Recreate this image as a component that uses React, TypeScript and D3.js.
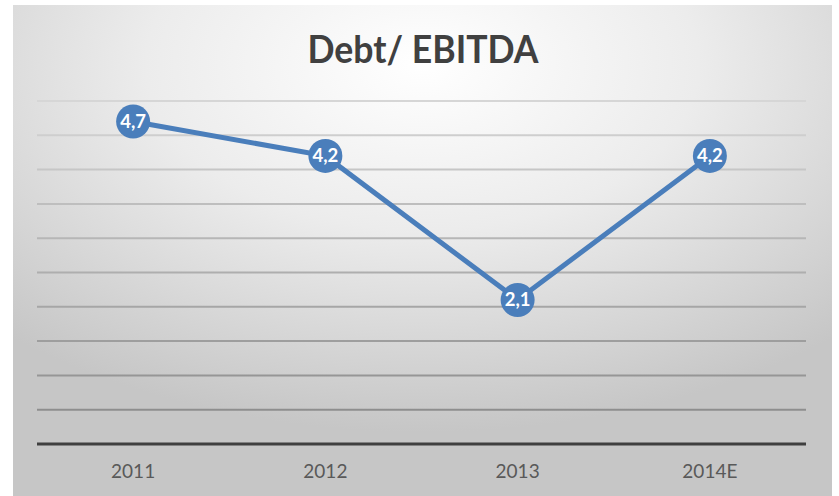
import React from "react";
import * as d3 from "d3";

const categories = ["2011", "2012", "2013", "2014E"];
const values = [4.7, 4.2, 2.1, 4.2];
const valueLabels = ["4,7", "4,2", "2,1", "4,2"];
const gridValues = [0.5, 1, 1.5, 2, 2.5, 3, 3.5, 4, 4.5, 5];
const title = "Debt/ EBITDA";

const W = 839;
const H = 496;

export default function App() {
  const x = d3.scaleBand<string>().domain(categories).range([37, 806]);
  const y = d3.scaleLinear().domain([0, 5]).range([444, 101]);
  const cx = (c: string) => (x(c) ?? 0) + x.bandwidth() / 2;
  const line = d3
    .line<number>()
    .x((_, i) => cx(categories[i]))
    .y((d) => y(d));
  const gridColor = d3.scaleLinear<string>().domain([5, 0.5]).range(["#d6d6d6", "#8e8e8e"]);

  return (
    <svg
      width={W}
      height={H}
      style={{ position: "absolute", left: 0, top: 0, background: "#ffffff" }}
    >
      <defs>
        <radialGradient id="bg" cx="0.5" cy="0.12" r="0.75" fx="0.5" fy="0.12">
          <stop offset="0" stopColor="#ffffff" />
          <stop offset="0.45" stopColor="#ececec" />
          <stop offset="1" stopColor="#c6c6c6" />
        </radialGradient>
      </defs>
      <rect x={13} y={5} width={819} height={491} fill="url(#bg)" />
      <text
        x={423}
        y={63}
        textAnchor="middle"
        fontFamily="Lato, 'Open Sans', sans-serif"
        fontWeight="bold"
        fontSize={38}
        fill="#404040"
        textLength={231}
        lengthAdjust="spacingAndGlyphs"
      >
        {title}
      </text>
      {gridValues.map((g) => (
        <line
          key={g}
          x1={37}
          x2={806}
          y1={y(g)}
          y2={y(g)}
          stroke={gridColor(g)}
          strokeWidth={2}
        />
      ))}
      <line x1={37} x2={806} y1={y(0)} y2={y(0)} stroke="#3f3f3f" strokeWidth={3} />
      {categories.map((c) => (
        <text
          key={c}
          x={cx(c)}
          y={478}
          textAnchor="middle"
          fontFamily="Lato, 'Open Sans', sans-serif"
          fontSize={19}
          fill="#595959"
        >
          {c}
        </text>
      ))}
      <path d={line(values) ?? ""} fill="none" stroke="#4a7ebb" strokeWidth={5} />
      {values.map((v, i) => (
        <g key={i}>
          <circle cx={cx(categories[i])} cy={y(v)} r={17} fill="#4a7ebb" />
          <text
            x={cx(categories[i])}
            y={y(v) + 6.5}
            textAnchor="middle"
            fontFamily="Lato, 'Open Sans', sans-serif"
            fontWeight="bold"
            fontSize={18.5}
            fill="#ffffff"
          >
            {valueLabels[i]}
          </text>
        </g>
      ))}
    </svg>
  );
}
